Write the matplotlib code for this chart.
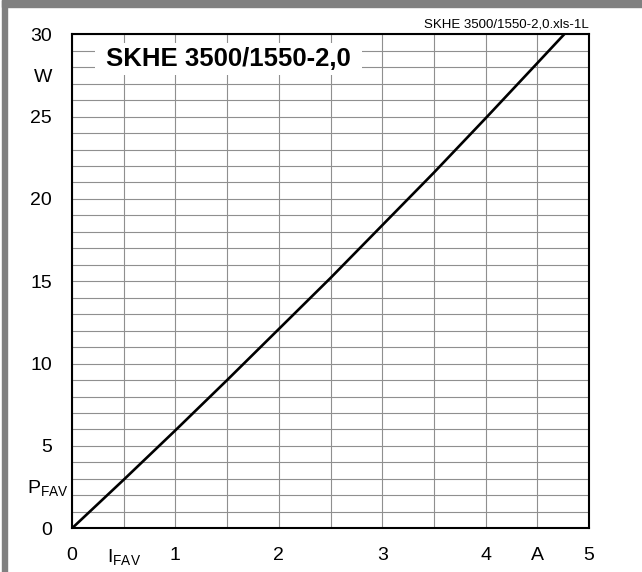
#!/usr/bin/env python3
"""
Verliesvermogen P_FAV tegen gemiddelde stroom I_FAV (SKHE 3500/1550-2,0).

Uitvoer:
    out.png
"""

import matplotlib

matplotlib.use("Agg")

import matplotlib.pyplot as plt
import matplotlib.transforms as mtransforms
from matplotlib.patches import Rectangle

UITVOER_PAD = "out.png"
GRIJS_RAND = "#808080"
GRID_KLEUR = "#8f8f8f"

STROOM_A = [0, 0.5, 1.0, 1.5, 2.0, 2.5, 3.0, 3.5, 4.0, 4.5, 4.76]
VERMOGEN_W = [0, 2.95, 5.95, 9.0, 12.1, 15.2, 18.4, 21.6, 24.9, 28.25, 30.0]

X_TICKS = [0, 0.5, 1, 2, 3, 4, 4.5, 5]
X_LABELS = ["0", r"$\mathrm{I_{FAV}}$", "1", "2", "3", "4", "A", "5"]
Y_TICKS = [0, 2.6, 5, 10, 15, 20, 25, 27.5, 30]
Y_LABELS = ["0", r"$\mathrm{P_{FAV}}$", "5", "10", "15", "20", "25", "W", "30"]

TITEL = "SKHE 3500/1550-2,0"
BESTANDSNAAM = "SKHE 3500/1550-2,0.xls-1L"


def maak_grafiek() -> None:
    plt.rcParams["font.family"] = ["Liberation Sans", "DejaVu Sans"]
    plt.rcParams["mathtext.fontset"] = "custom"
    plt.rcParams["mathtext.rm"] = "Liberation Sans"

    fig = plt.figure(figsize=(6.42, 5.72), dpi=100)

    # grijze rand links en boven
    fig.patches.append(
        Rectangle((2 / 642, 0), 5.5 / 642, 1, transform=fig.transFigure,
                  color=GRIJS_RAND, zorder=0)
    )
    fig.patches.append(
        Rectangle((2 / 642, 1 - 7 / 572), 1, 7 / 572, transform=fig.transFigure,
                  color=GRIJS_RAND, zorder=0)
    )

    ax = fig.add_axes([72 / 642, 43.7 / 572, 517 / 642, 494 / 572])

    ax.plot(STROOM_A, VERMOGEN_W, color="black", linewidth=1.9,
            zorder=4, clip_on=True)

    ax.set_xlim(0, 5)
    ax.set_ylim(0, 30)

    # raster: elke 0,5 A en elke 1 W (ook waar een label staat)
    ax.xaxis.remove_overlapping_locs = False
    ax.yaxis.remove_overlapping_locs = False
    ax.set_xticks([i * 0.5 for i in range(11)], minor=True)
    ax.set_yticks(list(range(31)), minor=True)
    ax.grid(which="minor", color=GRID_KLEUR, linewidth=0.8, zorder=1)
    ax.grid(which="major", visible=False)

    ax.set_xticks(X_TICKS)
    ax.set_xticklabels(X_LABELS)
    ax.set_yticks(Y_TICKS)
    ax.set_yticklabels(Y_LABELS)
    ax.tick_params(which="both", length=0)
    ax.tick_params(axis="x", pad=13.5, labelsize=14)
    ax.tick_params(axis="y", pad=14.5, labelsize=14)

    # P_FAV staat iets dichter bij de as dan de getallen
    verschuiving = mtransforms.ScaledTranslation(12 / 72, 0, fig.dpi_scale_trans)
    for label in ax.get_yticklabels():
        if "FAV" in label.get_text():
            label.set_transform(label.get_transform() + verschuiving)

    for spine in ax.spines.values():
        spine.set_linewidth(1.5)
        spine.set_zorder(5)

    # titel in een wit kader over het raster
    ax.add_patch(
        Rectangle((0.22, 27.5), 2.58, 2.0, facecolor="white",
                  edgecolor="none", zorder=2)
    )
    ax.text(1.51, 28.5, TITEL, ha="center", va="center",
            fontsize=18.5, fontweight="bold", zorder=3)

    ax.text(1.0, 1.008, BESTANDSNAAM, transform=ax.transAxes,
            ha="right", va="bottom", fontsize=9.5)

    fig.savefig(UITVOER_PAD, dpi=100)
    plt.close(fig)


if __name__ == "__main__":
    maak_grafiek()
